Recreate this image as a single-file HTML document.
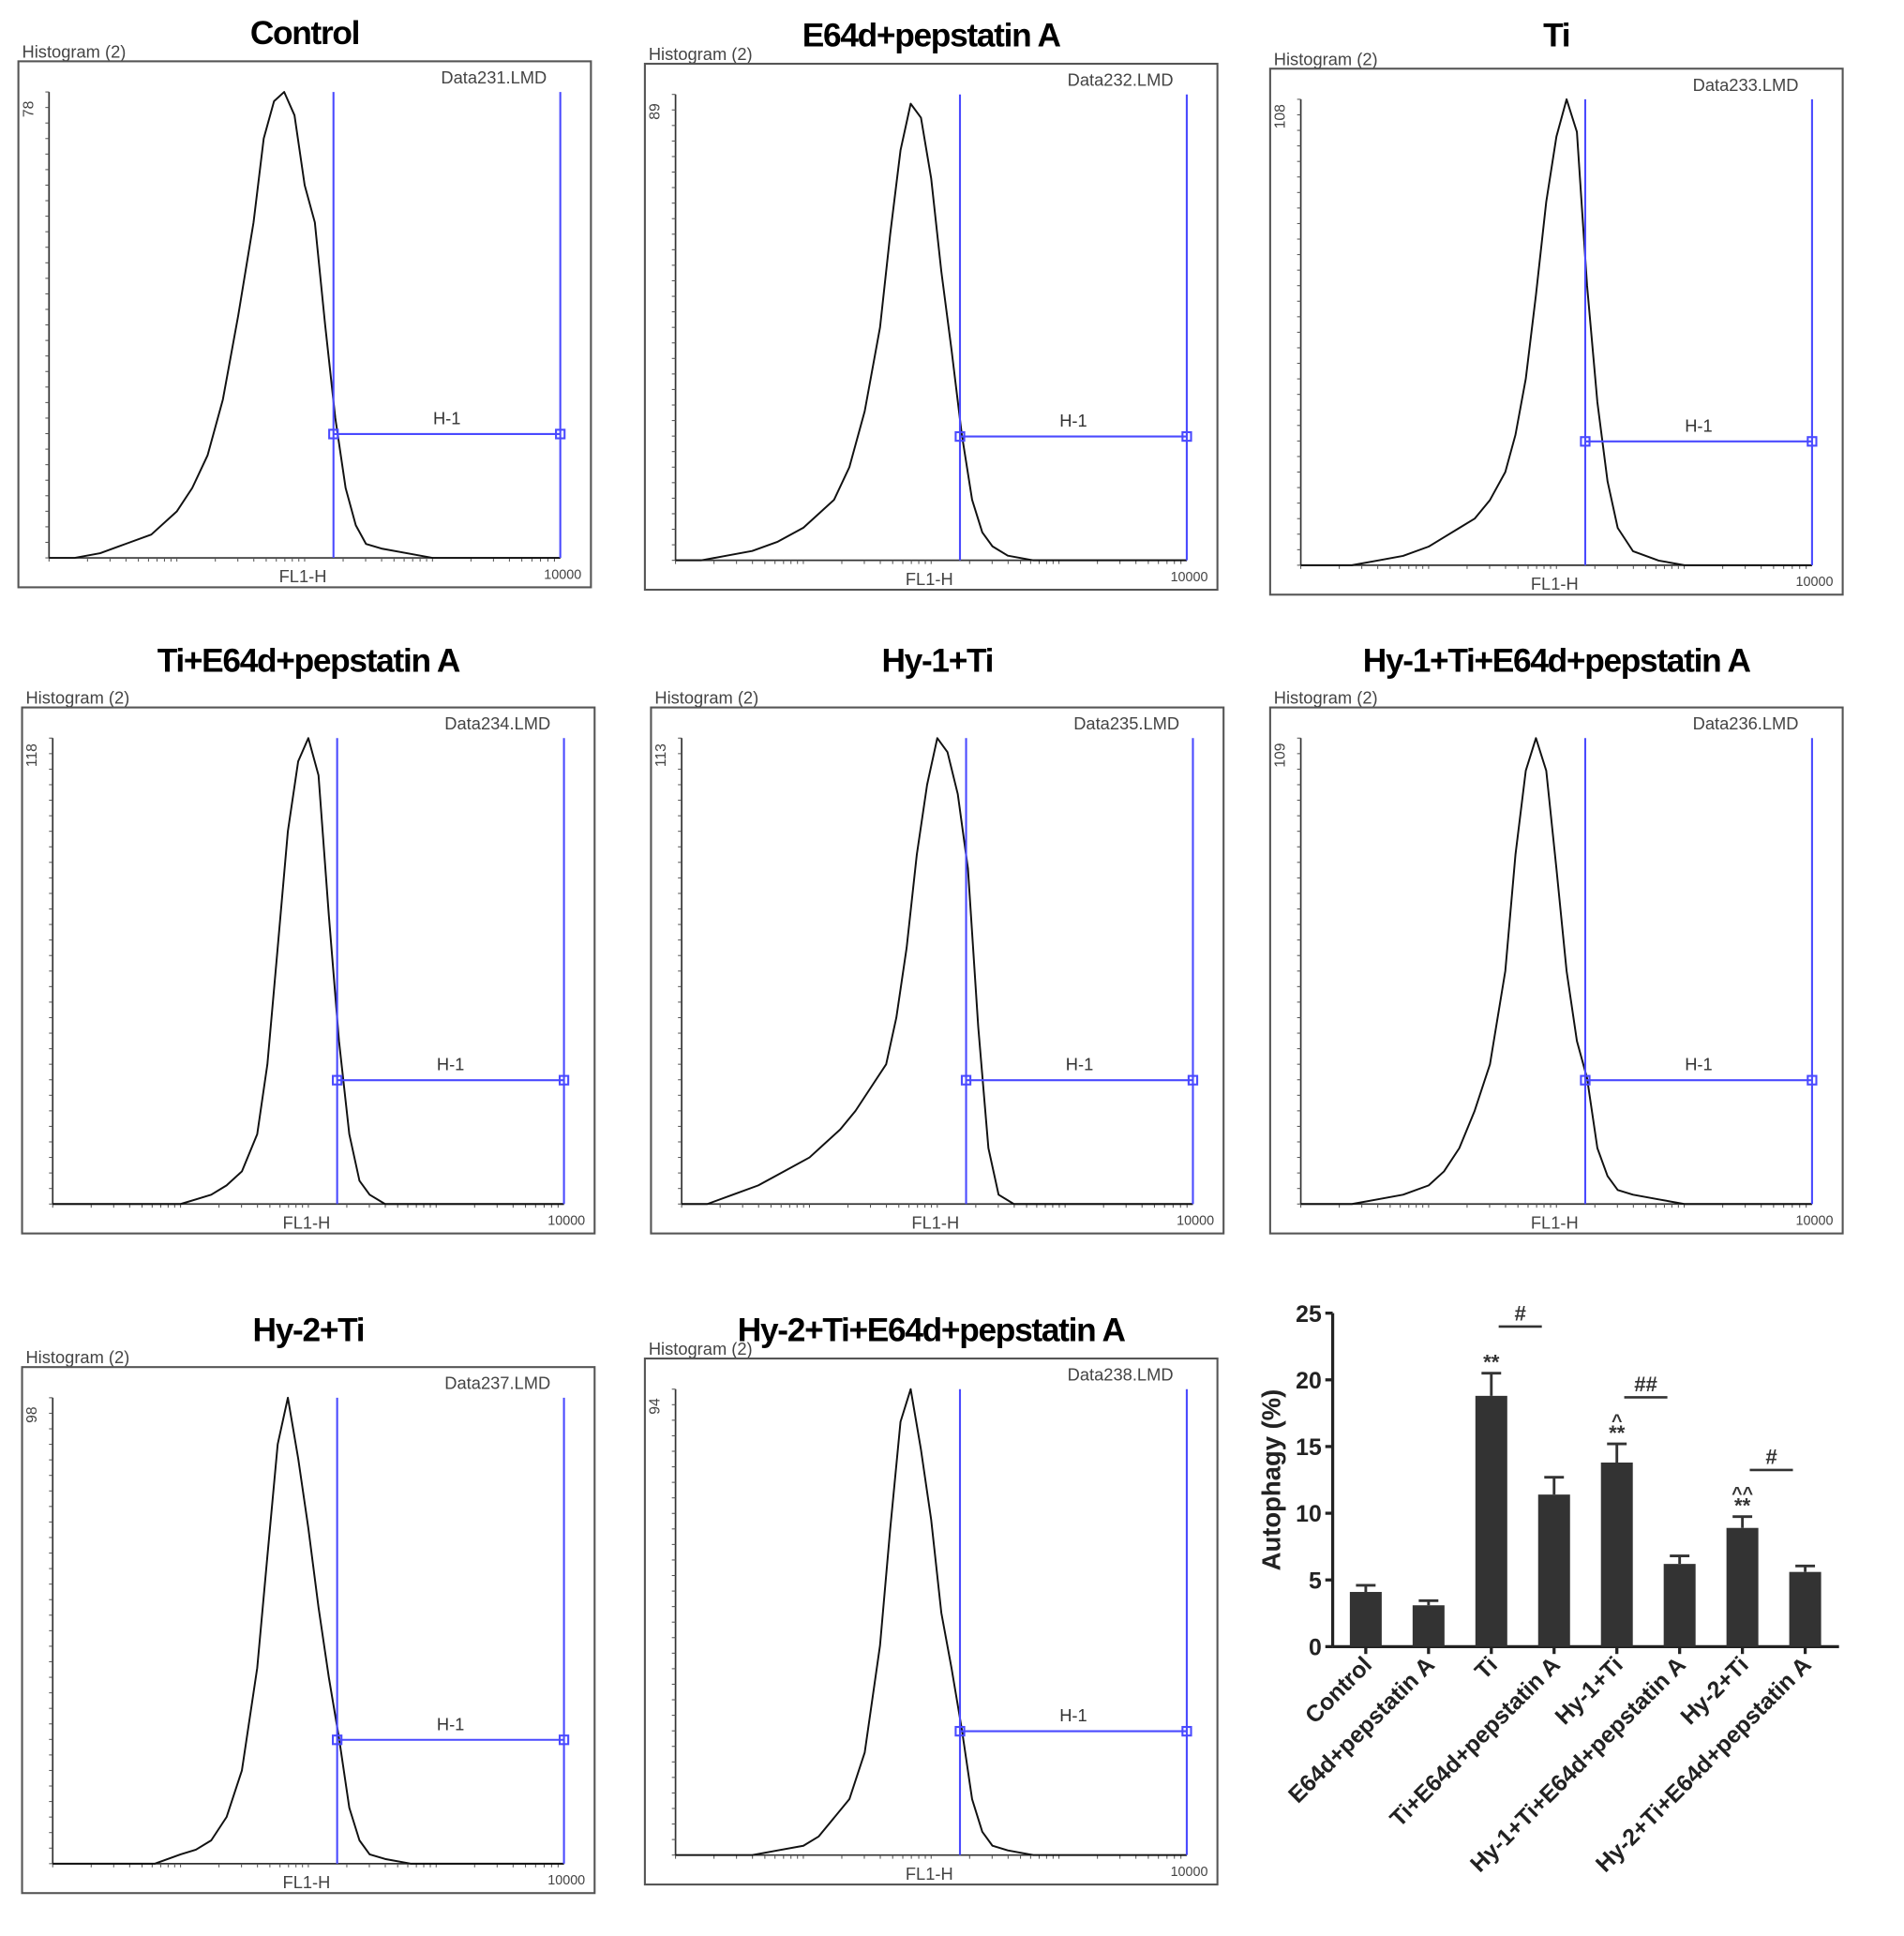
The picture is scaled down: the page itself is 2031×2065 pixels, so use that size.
<!DOCTYPE html>
<html><head><meta charset="utf-8"><style>
html,body{margin:0;padding:0;background:#fff}
svg{display:block}
</style></head><body>
<svg id="fig" width="2031" height="2065" viewBox="0 0 1553 1579" xmlns="http://www.w3.org/2000/svg" font-family="'Liberation Sans', sans-serif"></svg>
<script>
// ---------- histogram data ----------
const binFractions = [0.05,0.1,0.15,0.2,0.25,0.28,0.31,0.34,0.37,0.4,0.42,0.44,0.46,0.48,0.5,0.52,0.54,0.56,0.58,0.6,0.62,0.65,0.7,0.75];
const panelTitles = ["Control","E64d+pepstatin A","Ti","Ti+E64d+pepstatin A","Hy-1+Ti","Hy-1+Ti+E64d+pepstatin A","Hy-2+Ti","Hy-2+Ti+E64d+pepstatin A"];
const panelFiles = ["Data231.LMD","Data232.LMD","Data233.LMD","Data234.LMD","Data235.LMD","Data236.LMD","Data237.LMD","Data238.LMD"];
const panelMax = ["78","89","108","118","113","109","98","94"];
const countsControl = [0,.01,.03,.05,.1,.15,.22,.34,.52,.72,.9,.98,1,.95,.8,.72,.5,.3,.15,.07,.03,.02,.01,0];
const countsE64d = [0,.01,.02,.04,.07,.1,.13,.2,.32,.5,.7,.88,.98,.95,.82,.62,.45,.27,.13,.06,.03,.01,0,0];
const countsTi = [0,0,.01,.02,.04,.06,.08,.1,.14,.2,.28,.4,.58,.78,.92,1,.93,.6,.35,.18,.08,.03,.01,0];
const countsTiE64d = [0,0,0,0,0,.01,.02,.04,.07,.15,.3,.55,.8,.95,1,.92,.62,.35,.15,.05,.02,0,0,0];
const countsHy1Ti = [0,.02,.04,.07,.1,.13,.16,.2,.25,.3,.4,.55,.75,.9,1,.97,.88,.72,.38,.12,.02,0,0,0];
const countsHy1TiE64d = [0,0,.01,.02,.04,.07,.12,.2,.3,.5,.75,.93,1,.93,.72,.5,.35,.27,.12,.06,.03,.02,.01,0];
const countsHy2Ti = [0,0,0,0,.02,.03,.05,.1,.2,.42,.66,.9,1,.87,.72,.55,.4,.27,.12,.05,.02,.01,0,0];
const countsHy2TiE64d = [0,0,0,.01,.02,.04,.08,.12,.22,.45,.7,.93,1,.87,.72,.52,.4,.27,.12,.05,.02,.01,0,0];
const allCounts = [countsControl,countsE64d,countsTi,countsTiE64d,countsHy1Ti,countsHy1TiE64d,countsHy2Ti,countsHy2TiE64d];

// ---------- bar chart data ----------
const barCategories = ["Control","E64d+pepstatin A","Ti","Ti+E64d+pepstatin A","Hy-1+Ti","Hy-1+Ti+E64d+pepstatin A","Hy-2+Ti","Hy-2+Ti+E64d+pepstatin A"];
const barValues = [4.1,3.1,18.8,11.4,13.8,6.2,8.9,5.6];
const barErrors = [0.5,0.35,1.7,1.3,1.4,0.6,0.85,0.45];
const yTicks = [0,5,10,15,20,25];
const starLabels = ["","","**","","**","","**",""];
const caretLabels = ["","","","","^","","^^",""];

const NS = "http://www.w3.org/2000/svg";
const svg = document.getElementById('fig');
function mk(tag, attrs, parent, text){
  const e = document.createElementNS(NS, tag);
  for (const k in attrs) e.setAttribute(k, attrs[k]);
  if (text !== undefined) e.textContent = text;
  (parent||svg).appendChild(e);
  return e;
}

const boxes = [[15,50],[526,52],[1036,56],[18,577],[531,577],[1036,577],[18,1115],[526,1108]];
const titleY = [36,38,38,548,548,548,1094,1094];
const BW = 467, BH = 429;

boxes.forEach((b, i) => {
  const [bx, by] = b;
  const g = mk('g', {});
  
  
  const t = mk('text', {x: bx+BW/2, y: titleY[i], 'text-anchor':'middle', 'font-size':27, 'font-weight':'bold', 'letter-spacing':'-1'}, g, panelTitles[i]);
  
  
  const lab = mk('text', {x: bx+3, y: by-3, 'font-size':14, fill:'#444'}, g, 'Histogram (2)');
  
  
  const r = mk('rect', {x: bx, y: by, width: BW, height: BH, fill:'none', stroke:'#555', 'stroke-width':1.6}, g);
  
  
  const fl = mk('text', {x: bx+BW-36, y: by+18, 'text-anchor':'end', 'font-size':14, fill:'#444'}, g, panelFiles[i]);
  
  
  const ax = bx+25, top = by+25, base = by+405;
  const g1 = bx+257, g2 = bx+442;
  const ya = mk('line', {x1: ax, y1: top, x2: ax, y2: base, stroke:'#333', 'stroke-width':1.3}, g);
  
  
  const xa = mk('line', {x1: ax, y1: base, x2: g2, y2: base, stroke:'#333', 'stroke-width':1.3}, g);
  
  
  for (let k = 0; k <= 30; k++) {
    mk('line', {x1: ax-3, y1: base-k*(base-top)/30, x2: ax, y2: base-k*(base-top)/30, stroke:'#555', 'stroke-width':0.8}, g);
  }
  for (let d = 0; d < 4; d++) for (let m = 1; m <= 9; m++) {
    const xx = ax + (d + Math.log10(m)) * (g2-ax)/4;
    mk('line', {x1: xx, y1: base, x2: xx, y2: base+3, stroke:'#555', 'stroke-width':0.8}, g);
  }
  const ym = mk('text', {transform:`translate(${bx+12},${top+14}) rotate(-90)`, 'text-anchor':'middle', 'font-size':12, fill:'#444'}, g, panelMax[i]);
  
  
  const xl = mk('text', {x: bx+232, y: by+425, 'text-anchor':'middle', 'font-size':14, fill:'#444'}, g, 'FL1-H');
  
  
  const tk = mk('text', {x: g2+2, y: by+422, 'text-anchor':'middle', 'font-size':11, fill:'#444'}, g, '10000');
  
  
  const counts = allCounts[i];
  let d = `M${ax},${base}`;
  binFractions.forEach((f, k) => {
    d += ` L${(ax + f*(g2-ax)).toFixed(1)},${(base - counts[k]*(base-top)).toFixed(1)}`;
  });
  d += ` L${g2},${base}`;
  const p = mk('path', {d, fill:'none', stroke:'#111', 'stroke-width':1.5, 'stroke-linejoin':'round'}, g);
  
  
  const hy = by+304;
  const gg = mk('g', {stroke:'#4a4aff', 'stroke-width':1.6, fill:'none'}, g);
  
  
  mk('line', {x1: g1, y1: top, x2: g1, y2: base}, gg);
  mk('line', {x1: g2, y1: top, x2: g2, y2: base}, gg);
  mk('line', {x1: g1, y1: hy, x2: g2, y2: hy}, gg);
  mk('rect', {x: g1-3.5, y: hy-3.5, width: 7, height: 7}, gg);
  mk('rect', {x: g2-3.5, y: hy-3.5, width: 7, height: 7}, gg);
  const hl = mk('text', {x: (g1+g2)/2, y: hy-8, 'text-anchor':'middle', 'font-size':14, fill:'#333'}, g, 'H-1');
  
  
});

// ---------- bar chart ----------
const bc = mk('g', {});


const X0 = 1087, XEND = 1500, Y0 = 1343, YTOP = 1071, YMAX = 25;
const slot = 51.2, firstC = 1114;
function yScale(v){ return Y0 - v/YMAX*(Y0-YTOP); }
function xScale(i){ return firstC + i*slot; }
const yAx = mk('line', {x1: X0, y1: YTOP, x2: X0, y2: Y0, stroke:'#222', 'stroke-width':2.5}, bc);


const xAx = mk('line', {x1: X0, y1: Y0, x2: XEND, y2: Y0, stroke:'#222', 'stroke-width':2.5}, bc);


yTicks.forEach(v => {
  mk('line', {x1: X0-6, y1: yScale(v), x2: X0, y2: yScale(v), stroke:'#222', 'stroke-width':2.5}, bc);
  const tl = mk('text', {x: X0-9, y: yScale(v)+7, 'text-anchor':'end', 'font-size':19, 'font-weight':'bold', fill:'#222'}, bc, String(v));
  
  
});
const yt = mk('text', {transform:`translate(1044,1207) rotate(-90)`, 'text-anchor':'middle', 'font-size':21, 'font-weight':'bold', fill:'#222'}, bc, 'Autophagy (%)');


barValues.forEach((v, i) => {
  const cx = xScale(i), w = 26;
  const bar = mk('rect', {x: cx-w/2, y: yScale(v), width: w, height: Y0-yScale(v), fill:'#333'}, bc);
  
  
  const eb = mk('path', {d:`M${cx},${yScale(v)} V${yScale(v+barErrors[i])} M${cx-8},${yScale(v+barErrors[i])} H${cx+8}`, stroke:'#333', 'stroke-width':2.2, fill:'none'}, bc);
  
  
  mk('line', {x1: cx, y1: Y0, x2: cx, y2: Y0+6, stroke:'#222', 'stroke-width':2.5}, bc);
  const xl = mk('text', {transform:`translate(${cx+6},${Y0+16}) rotate(-45)`, 'text-anchor':'end', 'font-size':19, 'font-weight':'bold', fill:'#222'}, bc, barCategories[i]);
  
  
  const topY = yScale(v+barErrors[i]);
  if (starLabels[i]) {
    const s = mk('text', {x: cx, y: topY-3, 'text-anchor':'middle', 'font-size':17, 'font-weight':'bold', fill:'#333'}, bc, starLabels[i]);
    
    
  }
  if (caretLabels[i]) {
    const c = mk('text', {x: cx, y: topY-14, 'text-anchor':'middle', 'font-size':15, 'font-weight':'bold', fill:'#333'}, bc, caretLabels[i]);
    
    
  }
});
const bracketPairs = [[2,3,"#"],[4,5,"##"],[6,7,"#"]];
bracketPairs.forEach(([a, b, lbl]) => {
  const yy = yScale(Math.max(barValues[a]+barErrors[a], barValues[b]+barErrors[b])) - 38;
  const ln = mk('line', {x1: xScale(a)+6, y1: yy, x2: xScale(b)-10, y2: yy, stroke:'#333', 'stroke-width':2}, bc);
  
  
  const tx = mk('text', {x: (xScale(a)+xScale(b))/2 - 2, y: yy-5, 'text-anchor':'middle', 'font-size':17, 'font-weight':'bold', fill:'#333'}, bc, lbl);
  
  
});
</script>
</body></html>
